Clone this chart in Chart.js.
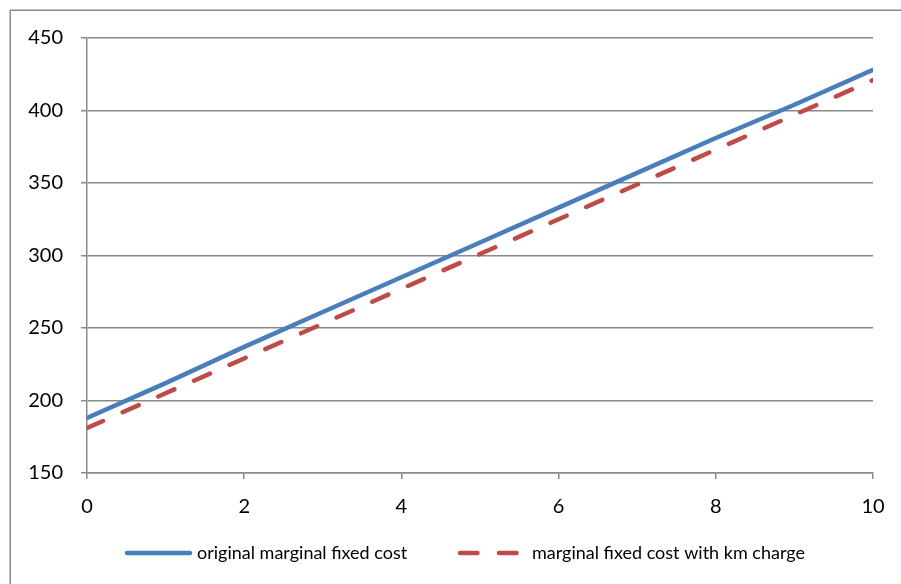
<!DOCTYPE html>
<html>
<head>
<meta charset="utf-8">
<script src="https://cdn.jsdelivr.net/npm/chart.js@4/dist/chart.umd.min.js"></script>
<style>
  html, body { margin: 0; padding: 0; background: #fff; }
  #wrap { width: 901px; height: 584px; position: relative; }
</style>
</head>
<body>
<div id="wrap"><canvas id="c" width="901" height="584"></canvas></div>
<script>
const xValues = [0, 1, 2, 3, 4, 5, 6, 7, 8, 9, 10];
const originalCost = [188, 212, 237, 261, 285, 309, 333, 357, 381, 404, 428];
const kmChargeCost = [181, 205, 229, 253, 277, 301, 325, 349, 373, 397, 421];
const seriesNames = ['original marginal fixed cost', 'marginal fixed cost with km charge'];
const yTicks = [150, 200, 250, 300, 350, 400, 450];
const xTicks = [0, 2, 4, 6, 8, 10];

const FONT = 'Lato, "Open Sans", sans-serif';
const GRID = '#8a8a8a';

const framePlugin = {
  id: 'frame',
  beforeDraw(chart) {
    const ctx = chart.ctx;
    ctx.save();
    ctx.fillStyle = '#fff';
    ctx.fillRect(0, 0, chart.width, chart.height);
    ctx.strokeStyle = '#8a8a8a';
    ctx.lineWidth = 1.5;
    ctx.strokeRect(10.25, 10.25, 1200, 1200);
    ctx.restore();
  }
};

// Legend drawn from the datasets' own styles and labels
const legendPlugin = {
  id: 'customLegend',
  afterDraw(chart) {
    const ctx = chart.ctx;
    const y = 553;
    const starts = [127, 460];
    ctx.save();
    chart.data.datasets.forEach((ds, i) => {
      const x0 = starts[i];
      ctx.beginPath();
      ctx.strokeStyle = ds.borderColor;
      ctx.lineWidth = ds.borderWidth;
      ctx.lineCap = 'round';
      ctx.setLineDash(ds.borderDash || []);
      ctx.moveTo(x0, y);
      ctx.lineTo(x0 + 63, y);
      ctx.stroke();
      ctx.setLineDash([]);
      ctx.fillStyle = '#000';
      ctx.font = '18px ' + FONT;
      ctx.textBaseline = 'middle';
      ctx.textAlign = 'left';
      ctx.fillText(ds.label, x0 + 70 + (i === 1 ? 2 : 0), y);
    });
    ctx.restore();
  }
};

new Chart(document.getElementById('c'), {
  type: 'line',
  data: {
    datasets: [
      {
        label: seriesNames[0],
        data: xValues.map((x, i) => ({ x: x, y: originalCost[i] })),
        borderColor: '#4a7ebb',
        backgroundColor: '#4a7ebb',
        borderWidth: 4.5,
        pointRadius: 0,
        tension: 0,
        borderCapStyle: 'round',
        borderJoinStyle: 'round'
      },
      {
        label: seriesNames[1],
        data: xValues.map((x, i) => ({ x: x, y: kmChargeCost[i] })),
        borderColor: '#be4b48',
        backgroundColor: '#be4b48',
        borderWidth: 4.5,
        borderDash: [17.5, 21.5],
        pointRadius: 0,
        tension: 0,
        borderCapStyle: 'round',
        borderJoinStyle: 'round'
      }
    ]
  },
  options: {
    responsive: false,
    animation: false,
    layout: { padding: { left: 0, top: 38, right: 28, bottom: 53 } },
    plugins: {
      tooltip: { enabled: false },
      legend: { display: false }
    },
    scales: {
      x: {
        type: 'linear',
        min: 0,
        max: 10,
        afterBuildTicks(scale) { scale.ticks = xTicks.map(v => ({ value: v })); },
        afterFit(scale) { scale.height = 58; },
        ticks: {
          color: '#000',
          font: { family: FONT, size: 20 },
          padding: 16,
          maxRotation: 0
        },
        grid: {
          display: true,
          drawOnChartArea: false,
          drawTicks: true,
          tickLength: 6,
          color: GRID,
          lineWidth: 1.5
        },
        border: { display: true, color: GRID, width: 1.5 }
      },
      y: {
        type: 'linear',
        min: 150,
        max: 450,
        afterBuildTicks(scale) { scale.ticks = yTicks.map(v => ({ value: v })); },
        afterFit(scale) { scale.width = 87; },
        ticks: {
          color: '#000',
          font: { family: FONT, size: 20 },
          padding: 18
        },
        grid: {
          color: GRID,
          lineWidth: 1.5,
          tickLength: 6,
          drawTicks: true
        },
        border: { display: true, color: GRID, width: 1.5 }
      }
    }
  },
  plugins: [framePlugin, legendPlugin]
});
</script>
</body>
</html>
